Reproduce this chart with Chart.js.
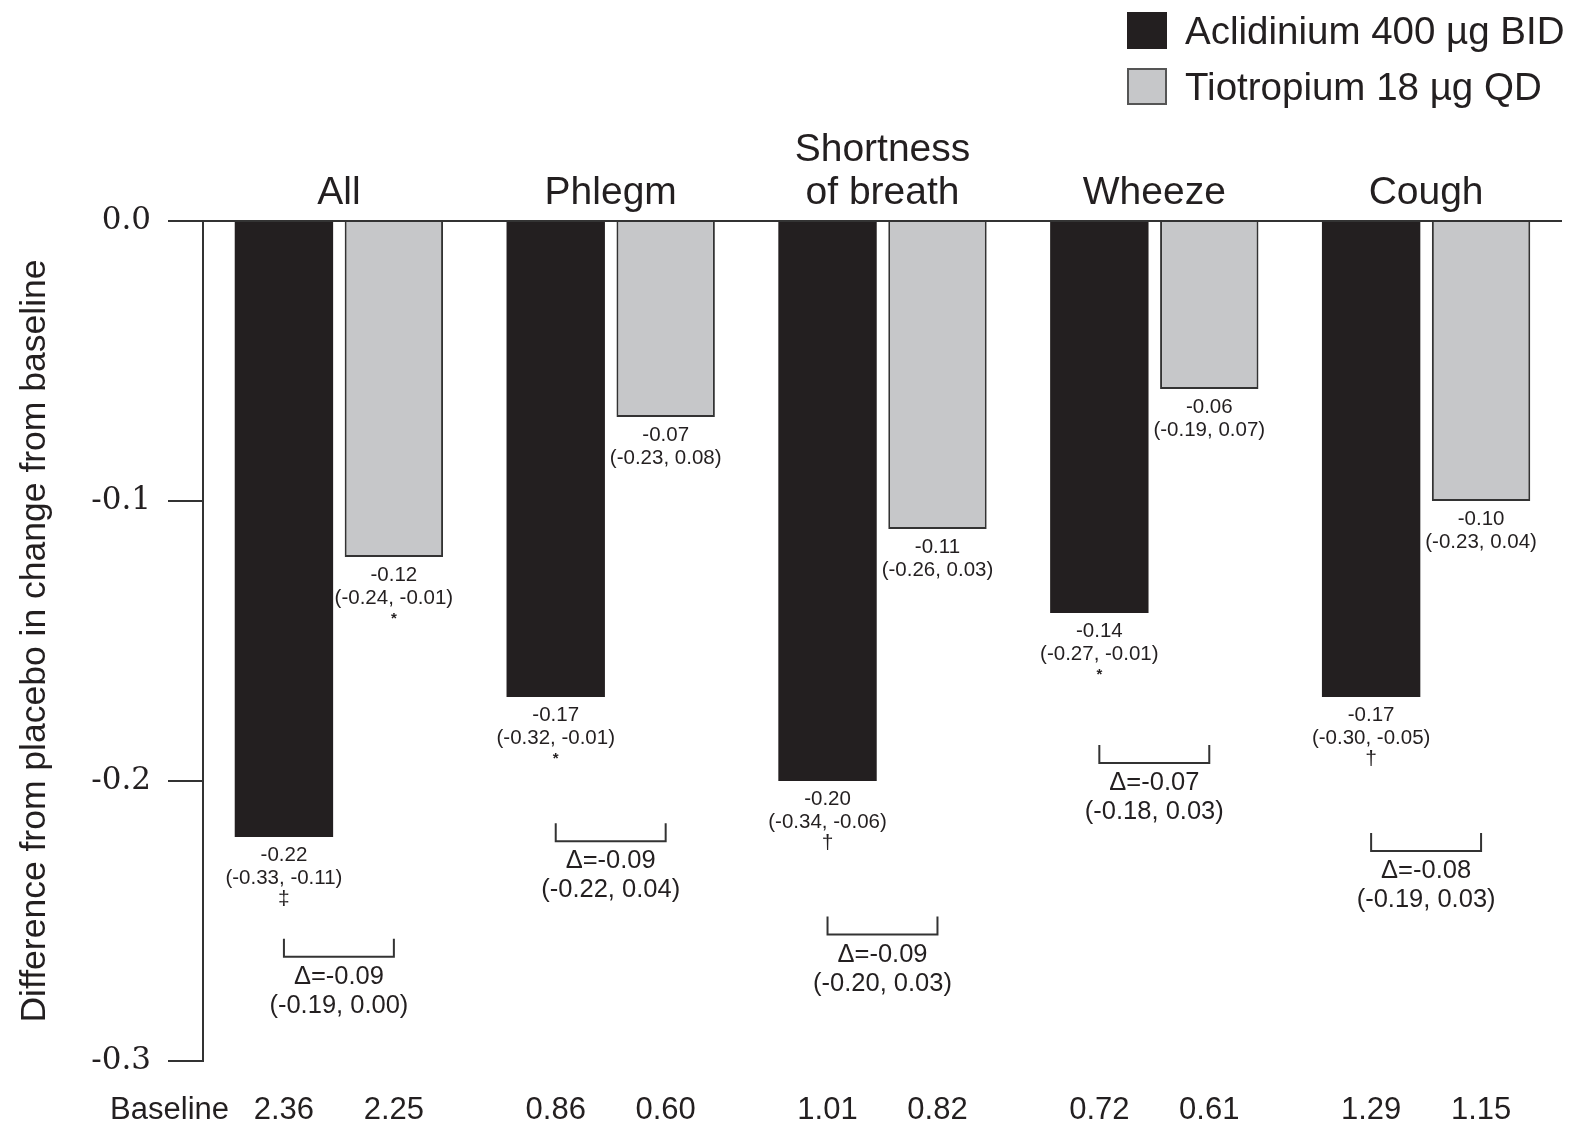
<!DOCTYPE html>
<html>
<head>
<meta charset="utf-8">
<title>Aclidinium vs Tiotropium – symptom change</title>
<script src="https://cdn.jsdelivr.net/npm/chart.js@4/dist/chart.umd.min.js"></script>
<style>
  html, body { margin: 0; padding: 0; background: #ffffff; }
  #wrap { width: 1572px; height: 1125px; }
</style>
</head>
<body>
<div id="wrap"><canvas id="chart" width="1572" height="1125"></canvas></div>
<script>
// Symptom domains
const categories = ['All', 'Phlegm', ['Shortness', 'of breath'], 'Wheeze', 'Cough'];

// Difference from placebo in change from baseline
const aclidinium   = [-0.22, -0.17, -0.20, -0.14, -0.17];
const aclidiniumCI = [[-0.33, -0.11], [-0.32, -0.01], [-0.34, -0.06], [-0.27, -0.01], [-0.30, -0.05]];
const aclidiniumSig = ['‡', '*', '†', '*', '†'];

const tiotropium   = [-0.12, -0.07, -0.11, -0.06, -0.10];
const tiotropiumCI = [[-0.24, -0.01], [-0.23, 0.08], [-0.26, 0.03], [-0.19, 0.07], [-0.23, 0.04]];
const tiotropiumSig = ['*', '', '', '', ''];

// Aclidinium minus tiotropium
const delta   = [-0.09, -0.09, -0.09, -0.07, -0.08];
const deltaCI = [[-0.19, 0.00], [-0.22, 0.04], [-0.20, 0.03], [-0.18, 0.03], [-0.19, 0.03]];

// Baseline scores
const baselineAclidinium = [2.36, 0.86, 1.01, 0.72, 1.29];
const baselineTiotropium = [2.25, 0.60, 0.82, 0.61, 1.15];

const yTicks = [0, -0.1, -0.2, -0.3];

// Vertical placement of the comparison brackets, in axis units
const bracketLevel = [-0.2563, -0.2151, -0.2484, -0.1871, -0.2186];

const INK = '#231f20';
const SANS = '"Liberation Sans", Arial, Helvetica, sans-serif';
const SERIF = '"DejaVu Serif", "Liberation Serif", serif';

const fmt = v => v.toFixed(2);
const ciText = ci => '(' + fmt(ci[0]) + ', ' + fmt(ci[1]) + ')';

const annotations = {
  id: 'annotations',
  afterDatasetsDraw(chart) {
    const { ctx, scales } = chart;
    const y = scales.y;
    const metaA = chart.getDatasetMeta(0);
    const metaT = chart.getDatasetMeta(1);
    ctx.save();
    ctx.fillStyle = INK;
    ctx.strokeStyle = '#333333';
    ctx.textAlign = 'center';
    ctx.textBaseline = 'middle';

    const labelBar = (bar, value, ci, sig) => {
      const bx = bar.x, by = bar.y;
      ctx.font = '20.5px ' + SANS;
      ctx.fillText(fmt(value), bx, by + 18);
      ctx.fillText(ciText(ci), bx, by + 41);
      if (sig) {
        ctx.font = (sig === '*' ? 'bold 15px ' : '21px ') + SANS;
        ctx.fillText(sig, bx, by + 62);
      }
    };

    categories.forEach((c, i) => {
      const a = metaA.data[i], t = metaT.data[i];
      labelBar(a, aclidinium[i], aclidiniumCI[i], aclidiniumSig[i]);
      labelBar(t, tiotropium[i], tiotropiumCI[i], tiotropiumSig[i]);

      // comparison bracket
      const top = y.getPixelForValue(bracketLevel[i]);
      ctx.lineWidth = 2;
      ctx.beginPath();
      ctx.moveTo(a.x, top);
      ctx.lineTo(a.x, top + 18);
      ctx.lineTo(t.x, top + 18);
      ctx.lineTo(t.x, top);
      ctx.stroke();
      const mid = (a.x + t.x) / 2;
      ctx.font = '25.5px ' + SANS;
      ctx.fillText('Δ=' + fmt(delta[i]), mid, top + 38);
      ctx.fillText(ciText(deltaCI[i]), mid, top + 67);

      // baseline row
      ctx.font = '31px ' + SANS;
      ctx.fillText(baselineAclidinium[i].toFixed(2), a.x, 1110);
      ctx.fillText(baselineTiotropium[i].toFixed(2), t.x, 1110);
    });

    ctx.textAlign = 'right';
    ctx.font = '31px ' + SANS;
    ctx.fillText('Baseline', 229, 1110);

    // legend
    ctx.textAlign = 'left';
    ctx.font = '38.5px ' + SANS;
    chart.data.datasets.forEach((ds, i) => {
      const boxY = i === 0 ? 12 : 68;
      ctx.fillStyle = ds.backgroundColor;
      ctx.fillRect(1127, boxY, 40, 37);
      ctx.lineWidth = 2;
      ctx.strokeStyle = i === 0 ? INK : '#555555';
      ctx.strokeRect(1128, boxY + 1, 38, 35);
      ctx.fillStyle = INK;
      ctx.fillText(ds.label, 1185, boxY + 21);
    });
    ctx.restore();
  }
};

new Chart(document.getElementById('chart'), {
  type: 'bar',
  data: {
    labels: categories,
    datasets: [
      {
        label: 'Aclidinium 400 µg BID',
        data: aclidinium,
        backgroundColor: INK,
        borderWidth: 0
      },
      {
        label: 'Tiotropium 18 µg QD',
        data: tiotropium,
        backgroundColor: '#c6c7c9',
        borderColor: '#333333',
        borderWidth: 2,
        borderSkipped: 'start'
      }
    ]
  },
  options: {
    responsive: false,
    devicePixelRatio: 1,
    animation: false,
    layout: { padding: { left: 0, right: 10, top: 0, bottom: 64 } },
    datasets: { bar: { categoryPercentage: 0.809, barPercentage: 0.895 } },
    plugins: {
      legend: { display: false },
      tooltip: { enabled: false }
    },
    scales: {
      x: {
        position: 'top',
        grid: { display: false },
        border: { display: false },
        ticks: {
          color: INK,
          font: { family: SANS, size: 39, lineHeight: 1.1 },
          padding: -2,
          maxRotation: 0,
          autoSkip: false
        },
        afterFit(scale) { scale.height = 221; }
      },
      y: {
        min: -0.3,
        max: 0,
        afterBuildTicks(scale) { scale.ticks = yTicks.map(v => ({ value: v })); },
        ticks: {
          color: INK,
          font: { family: SERIF, size: 31 },
          padding: 17,
          callback: v => Number(v).toFixed(1)
        },
        grid: {
          drawOnChartArea: true,
          color: c => (c.tick && c.tick.value === 0 ? '#333333' : 'rgba(0,0,0,0)'),
          tickColor: '#333333',
          tickLength: 35,
          lineWidth: 2
        },
        border: { display: true, color: '#333333', width: 2 },
        title: {
          display: true,
          text: 'Difference from placebo in change from baseline',
          color: INK,
          font: { family: SANS, size: 35.5 },
          padding: { top: 14, bottom: 0 }
        },
        afterFit(scale) { scale.width = 203; }
      }
    }
  },
  plugins: [annotations]
});
</script>
</body>
</html>
